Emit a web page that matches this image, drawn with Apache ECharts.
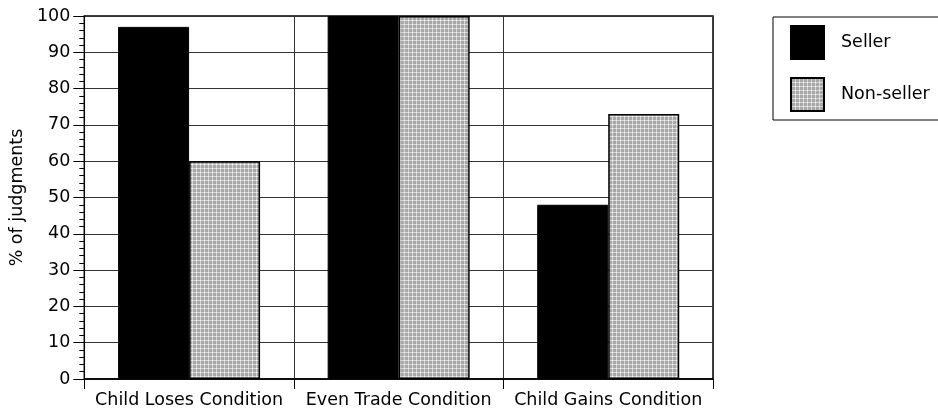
<!DOCTYPE html>
<html>
<head>
<meta charset="utf-8">
<script src="https://cdn.jsdelivr.net/npm/echarts@6/dist/echarts.min.js"></script>
<style>html,body{margin:0;padding:0;background:#fff;}#c{width:938px;height:410px;}</style>
</head>
<body>
<div id="c"></div>
<script>
var categories = ['Child Loses Condition', 'Even Trade Condition', 'Child Gains Condition'];
var sellerValues = [97, 100, 48];
var nonSellerValues = [60, 100, 73];
var yTicks = [0, 10, 20, 30, 40, 50, 60, 70, 80, 90, 100];

var FONT = 'DejaVu Sans';
var FS = 17.5;

function makePattern() {
  var cv = document.createElement('canvas');
  cv.width = 4; cv.height = 4;
  var ctx = cv.getContext('2d');
  ctx.fillStyle = '#a8a8a8';
  ctx.fillRect(0, 0, 4, 4);
  ctx.fillStyle = '#d6d6d6';
  ctx.fillRect(0, 0, 4, 1);
  ctx.fillRect(0, 0, 1, 4);
  ctx.fillStyle = '#f2f2f2';
  ctx.fillRect(0, 0, 1, 1);
  return cv;
}

var chart = echarts.init(document.getElementById('c'), null, {renderer: 'canvas'});
chart.setOption({
  animation: false,
  backgroundColor: '#fff',
  grid: {left: 82, right: 225, top: 16, bottom: 31, show: true, borderColor: '#000', borderWidth: 1.5, backgroundColor: 'transparent'},
  legend: {
    orient: 'vertical', left: 773, top: 17,
    itemWidth: 33, itemHeight: 33, itemGap: 17,
    padding: [8, 30, 8, 17],
    borderColor: '#000', borderWidth: 1,
    icon: 'rect',
    textStyle: {fontFamily: FONT, fontSize: FS, color: '#000', padding: [0, 0, 0, 12]},
    data: ['Seller', 'Non-seller']
  },
  xAxis: {
    type: 'category', data: categories,
    axisLine: {show: true, lineStyle: {color: '#000', width: 1.5}},
    axisTick: {show: true, length: 10, interval: 0, lineStyle: {color: '#000'}},
    axisLabel: {fontFamily: FONT, fontSize: FS, color: '#000', margin: 12, interval: 0},
    splitLine: {show: true, interval: 0, lineStyle: {color: '#333', width: 1}}
  },
  yAxis: {
    type: 'value', min: yTicks[0], max: yTicks[yTicks.length - 1], interval: 10,
    name: '% of judgments', nameLocation: 'middle', nameRotate: 90, nameGap: 48,
    nameTextStyle: {fontFamily: FONT, fontSize: FS, color: '#000'},
    axisLine: {show: true, lineStyle: {color: '#000', width: 1}},
    axisTick: {show: true, length: 11, lineStyle: {color: '#000'}},
    minorTick: {show: true, splitNumber: 5, length: 5, lineStyle: {color: '#000'}},
    axisLabel: {fontFamily: FONT, fontSize: FS, color: '#000', margin: 14},
    splitLine: {show: true, lineStyle: {color: '#333', width: 1}}
  },
  series: [
    {name: 'Seller', type: 'bar', data: sellerValues, barWidth: 71, barGap: '0%',
     itemStyle: {color: '#000', borderColor: '#000', borderWidth: 1}},
    {name: 'Non-seller', type: 'bar', data: nonSellerValues, barWidth: 71, barGap: '0%',
     itemStyle: {color: {image: makePattern(), repeat: 'repeat'}, borderColor: '#000', borderWidth: 1.5}}
  ]
});
</script>
</body>
</html>
